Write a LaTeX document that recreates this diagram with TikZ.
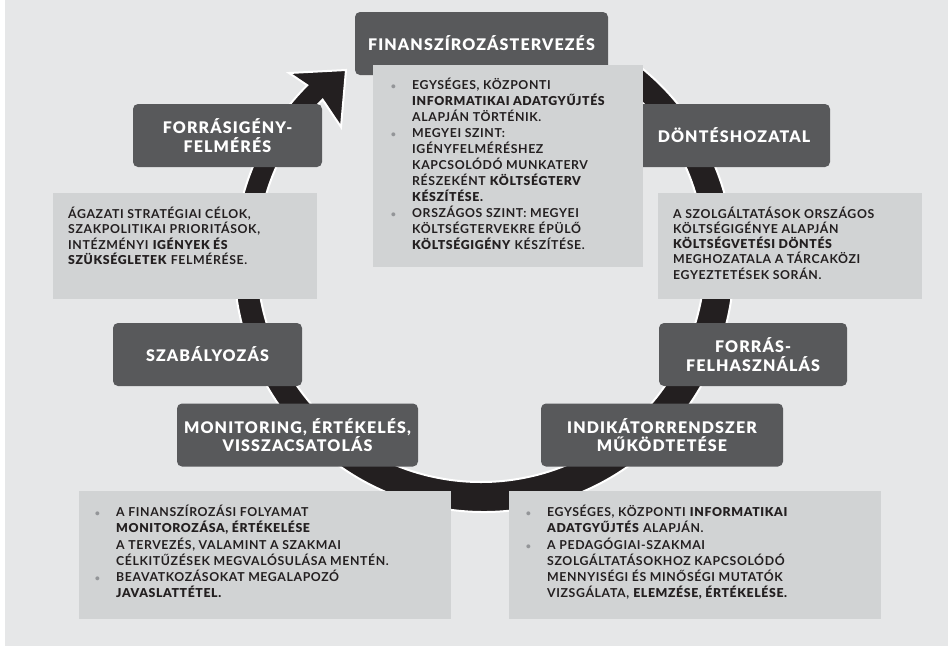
\documentclass[tikz,border=0pt]{standalone}
\usepackage{fontspec}
\setmainfont{Lato}[UprightFont={* Bold}, BoldFont={* Black}, LetterSpace=5]
\newfontfamily\headfont{Lato Black}[LetterSpace=7]
\definecolor{pagegrey}{HTML}{E6E7E8}
\definecolor{headgrey}{HTML}{58595B}
\definecolor{notegrey}{HTML}{D1D3D4}
\definecolor{ink}{HTML}{231F20}
\definecolor{dotgrey}{HTML}{939598}
\newcommand{\itembul}{\leavevmode\llap{\textcolor{dotgrey}{\fontsize{9}{9}\selectfont\textbullet}\hspace{16pt}}}
\newcommand{\firstline}{\rule{0pt}{12pt}}
\begin{document}
\begin{tikzpicture}[x=1pt, y=-1pt,
  headbox/.style={fill=headgrey, rounded corners=5pt, text=white, align=center, inner sep=0pt,
    minimum height=63pt, font=\headfont\fontsize{16}{18.5}\selectfont},
  notebox/.style={fill=notegrey, anchor=north west, inner sep=0pt},
  notetext/.style={anchor=north west, inner sep=0pt, text=ink, align=left, font=\fontsize{12.3}{16}\selectfont},
  ring/.style={fill=ink, draw=white, line width=2pt, line join=miter}]

       \useasboundingbox (0,0) rectangle (949,646);
       \fill[pagegrey] (5,0) rectangle (948,646);

       \coordinate (barbout) at (289,73);
       \coordinate (tip) at (346,70);
       \coordinate (barbin) at (341,127);
       \draw[ring] ([shift={(484,262)}]-51:250) arc[start angle=-51, end angle=225, radius=250]
         -- (barbout) -- (tip) -- (barbin)
         -- ([shift={(481,258)}]225:224) arc[start angle=225, end angle=-51, radius=224] -- cycle;

       \node[headbox, minimum width=253pt] (plan) at (481.5,43.5) {FINANSZÍROZÁSTERVEZÉS};
       \node[headbox, minimum width=192pt] (decide) at (734,135.5) {DÖNTÉSHOZATAL};
       \node[headbox, minimum width=189pt] (need) at (227.5,135.5) {FORRÁSIGÉNY-\\FELMÉRÉS};
       \node[headbox, minimum width=189pt] (rules) at (207.5,354.5) {SZABÁLYOZÁS};
       \node[headbox, minimum width=241pt] (monitor) at (297.5,435) {MONITORING, ÉRTÉKELÉS,\\VISSZACSATOLÁS};
       \node[headbox, minimum width=188pt] (spend) at (753,354.5) {FORRÁS-\\FELHASZNÁLÁS};
       \node[headbox, minimum width=242pt] (indicator) at (662,435) {INDIKÁTORRENDSZER\\MŰKÖDTETÉSE};

       \node[notebox, minimum width=270pt, minimum height=202pt] (plannote) at (373,65) {};
       \node[notetext] (plantext) at (412,77.5) {\itembul\firstline EGYSÉGES, KÖZPONTI\\
         \textbf{INFORMATIKAI ADATGYŰJTÉS}\\
         ALAPJÁN TÖRTÉNIK.\\
         \itembul MEGYEI SZINT:\\
         IGÉNYFELMÉRÉSHEZ\\
         KAPCSOLÓDÓ MUNKATERV\\
         RÉSZEKÉNT \textbf{KÖLTSÉGTERV}\\
         \textbf{KÉSZÍTÉSE.}\\
         \itembul ORSZÁGOS SZINT: MEGYEI\\
         KÖLTSÉGTERVEKRE ÉPÜLŐ\\
         \textbf{KÖLTSÉGIGÉNY} KÉSZÍTÉSE.};

       \node[notebox, minimum width=264pt, minimum height=106pt] (neednote) at (53,193) {};
       \node[notetext, font=\fontsize{12.3}{15.2}\selectfont] (needtext) at (68,206.5) {\firstline ÁGAZATI STRATÉGIAI CÉLOK,\\
         SZAKPOLITIKAI PRIORITÁSOK,\\
         INTÉZMÉNYI \textbf{IGÉNYEK ÉS}\\
         \textbf{SZÜKSÉGLETEK} FELMÉRÉSE.};

       \node[notebox, minimum width=264pt, minimum height=106pt] (decidenote) at (658,193) {};
       \node[notetext, font=\fontsize{12.3}{15.2}\selectfont] (decidetext) at (673,206) {\firstline A SZOLGÁLTATÁSOK ORSZÁGOS\\
         KÖLTSÉGIGÉNYE ALAPJÁN\\
         \textbf{KÖLTSÉGVETÉSI DÖNTÉS}\\
         MEGHOZATALA A TÁRCAKÖZI\\
         EGYEZTETÉSEK SORÁN.};

       \node[notebox, minimum width=372pt, minimum height=128pt] (monitornote) at (79,491) {};
       \node[notetext, font=\fontsize{12.3}{16.2}\selectfont] (monitortext) at (116,504.5) {\itembul\firstline A FINANSZÍROZÁSI FOLYAMAT\\
         \textbf{MONITOROZÁSA, ÉRTÉKELÉSE}\\
         A TERVEZÉS, VALAMINT A SZAKMAI\\
         CÉLKITŰZÉSEK MEGVALÓSULÁSA MENTÉN.\\
         \itembul BEAVATKOZÁSOKAT MEGALAPOZÓ\\
         \textbf{JAVASLATTÉTEL.}};

       \node[notebox, minimum width=372pt, minimum height=128pt] (indicatornote) at (509,491) {};
       \node[notetext, font=\fontsize{12.3}{16.2}\selectfont] (indicatortext) at (547,504.5) {\itembul\firstline EGYSÉGES, KÖZPONTI \textbf{INFORMATIKAI}\\
         \textbf{ADATGYŰJTÉS} ALAPJÁN.\\
         \itembul A PEDAGÓGIAI-SZAKMAI\\
         SZOLGÁLTATÁSOKHOZ KAPCSOLÓDÓ\\
         MENNYISÉGI ÉS MINŐSÉGI MUTATÓK\\
         VIZSGÁLATA, \textbf{ELEMZÉSE, ÉRTÉKELÉSE.}};
     \end{tikzpicture}
\end{document}
